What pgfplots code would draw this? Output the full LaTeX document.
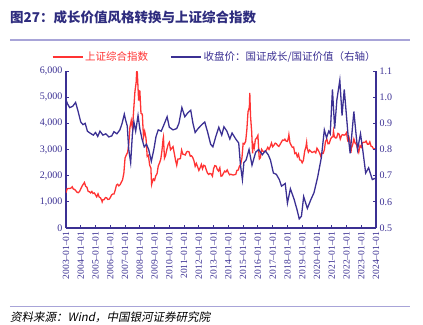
\documentclass[border=0pt]{standalone}
\usepackage{pgfplots}
\pgfplotsset{compat=1.18}
\usepackage{pgfplotstable}
\usepackage{fontspec}
\setmainfont{Liberation Serif}
\newfontfamily\cjk{Noto Sans CJK SC}
\newfontfamily\cjkit[FakeSlant=0.2]{Noto Sans CJK SC}
\definecolor{myred}{HTML}{FF3333}
\definecolor{myblue}{HTML}{3B3093}
\definecolor{titleblue}{HTML}{2E2C7E}
\definecolor{rulec}{HTML}{A8A4D8}

\pgfplotstableread{
x y
2003.00 1350
2003.08 1500
2003.17 1512
2003.25 1510
2003.33 1521
2003.42 1576
2003.50 1487
2003.58 1477
2003.67 1421
2003.75 1367
2003.83 1348
2003.92 1397
2004.00 1497
2004.08 1590
2004.17 1675
2004.25 1741
2004.33 1595
2004.42 1555
2004.50 1400
2004.58 1386
2004.67 1342
2004.75 1396
2004.83 1320
2004.92 1340
2005.00 1266
2005.08 1191
2005.17 1306
2005.25 1181
2005.33 1159
2005.42 1060
2005.45 1000
2005.50 1080
2005.58 1083
2005.67 1162
2005.75 1155
2005.83 1092
2005.92 1099
2006.00 1161
2006.08 1258
2006.17 1299
2006.25 1298
2006.33 1440
2006.42 1641
2006.50 1672
2006.58 1612
2006.67 1658
2006.75 1752
2006.83 1837
2006.92 2099
2007.00 2675
2007.08 2786
2007.17 2881
2007.25 3183
2007.33 3841
2007.42 4109
2007.50 3820
2007.58 4471
2007.67 5218
2007.75 5552
2007.79 6000
2007.83 5954
2007.92 4871
2008.00 5262
2008.08 4383
2008.17 4348
2008.25 3473
2008.33 3693
2008.42 3433
2008.50 2736
2008.58 2775
2008.67 2397
2008.75 2293
2008.80 1665
2008.83 1729
2008.92 1871
2009.00 1821
2009.08 1991
2009.17 2082
2009.25 2373
2009.33 2477
2009.42 2633
2009.50 2959
2009.58 3412
2009.60 3470
2009.67 2667
2009.75 2779
2009.83 2996
2009.92 3195
2010.00 3277
2010.08 2989
2010.17 3052
2010.25 3110
2010.33 2871
2010.42 2592
2010.50 2398
2010.58 2638
2010.67 2639
2010.75 2656
2010.83 2979
2010.92 2820
2011.00 2808
2011.08 2790
2011.17 2905
2011.25 2928
2011.33 2912
2011.42 2743
2011.50 2762
2011.58 2701
2011.67 2568
2011.75 2359
2011.83 2469
2011.92 2333
2012.00 2199
2012.08 2292
2012.17 2429
2012.25 2263
2012.33 2397
2012.42 2373
2012.50 2225
2012.58 2103
2012.67 2047
2012.75 2086
2012.83 2069
2012.92 1980
2013.00 2269
2013.08 2385
2013.17 2366
2013.25 2237
2013.33 2178
2013.42 2301
2013.50 1979
2013.58 1994
2013.67 2098
2013.75 2175
2013.83 2141
2013.92 2220
2014.00 2116
2014.08 2033
2014.17 2056
2014.25 2033
2014.33 2026
2014.42 2039
2014.50 2048
2014.58 2202
2014.67 2217
2014.75 2364
2014.83 2420
2014.92 2683
2015.00 3235
2015.08 3210
2015.17 3310
2015.25 3748
2015.33 4442
2015.42 4612
2015.45 5166
2015.50 4277
2015.58 3664
2015.64 2850
2015.67 3206
2015.75 3053
2015.83 3383
2015.92 3445
2016.00 3539
2016.08 2738
2016.10 2640
2016.17 2688
2016.25 3004
2016.33 2938
2016.42 2917
2016.50 2930
2016.58 2979
2016.67 3085
2016.75 3005
2016.83 3100
2016.92 3250
2017.00 3104
2017.08 3159
2017.17 3242
2017.25 3223
2017.33 3155
2017.42 3117
2017.50 3192
2017.58 3273
2017.67 3361
2017.75 3349
2017.83 3393
2017.92 3317
2018.00 3307
2018.08 3481
2018.10 3560
2018.17 3259
2018.25 3169
2018.33 3082
2018.42 3095
2018.50 2847
2018.58 2876
2018.67 2725
2018.75 2821
2018.83 2603
2018.92 2588
2019.00 2494
2019.08 2585
2019.17 2941
2019.25 3091
2019.30 3270
2019.33 3078
2019.42 2899
2019.50 2979
2019.58 2932
2019.67 2886
2019.75 2905
2019.83 2929
2019.92 2872
2020.00 3050
2020.08 2977
2020.17 2880
2020.25 2750
2020.33 2860
2020.42 2852
2020.50 2985
2020.58 3310
2020.67 3396
2020.75 3218
2020.83 3225
2020.92 3392
2021.00 3473
2021.08 3483
2021.12 3700
2021.17 3509
2021.25 3441
2021.33 3447
2021.42 3615
2021.50 3591
2021.58 3397
2021.67 3544
2021.75 3568
2021.83 3547
2021.92 3564
2022.00 3640
2022.08 3361
2022.17 3462
2022.25 3252
2022.30 2870
2022.33 3047
2022.42 3186
2022.50 3399
2022.58 3253
2022.67 3202
2022.75 3024
2022.83 2893
2022.92 3151
2023.00 3089
2023.08 3255
2023.17 3280
2023.25 3273
2023.33 3323
2023.42 3205
2023.50 3202
2023.58 3291
2023.67 3120
2023.75 3110
2023.83 3018
2023.92 3030
2023.98 2975
}\redtable

\pgfplotstableread{
x y
2003.00 0.990
2003.10 0.975
2003.25 0.960
2003.45 0.965
2003.65 0.980
2003.80 0.950
2004.00 0.905
2004.15 0.895
2004.30 0.900
2004.45 0.870
2004.65 0.862
2004.85 0.855
2005.00 0.865
2005.15 0.850
2005.30 0.870
2005.50 0.855
2005.70 0.860
2005.90 0.848
2006.10 0.852
2006.25 0.868
2006.45 0.860
2006.65 0.875
2006.80 0.900
2006.95 0.935
2007.05 0.910
2007.15 0.890
2007.25 0.800
2007.38 0.750
2007.50 0.860
2007.60 0.905
2007.72 0.870
2007.88 0.930
2008.00 0.880
2008.15 0.840
2008.30 0.810
2008.45 0.820
2008.60 0.800
2008.78 0.755
2008.95 0.800
2009.10 0.850
2009.25 0.875
2009.45 0.870
2009.60 0.890
2009.85 0.925
2010.00 0.885
2010.25 0.875
2010.50 0.880
2010.65 0.900
2010.85 0.960
2011.05 0.925
2011.25 0.940
2011.45 0.950
2011.60 0.900
2011.75 0.865
2011.95 0.880
2012.20 0.895
2012.40 0.905
2012.60 0.865
2012.80 0.820
2012.95 0.810
2013.15 0.850
2013.35 0.885
2013.55 0.855
2013.70 0.887
2013.90 0.870
2014.10 0.840
2014.25 0.863
2014.50 0.840
2014.70 0.825
2014.82 0.740
2014.95 0.685
2015.05 0.750
2015.20 0.760
2015.40 0.800
2015.60 0.740
2015.85 0.790
2016.05 0.800
2016.30 0.780
2016.50 0.795
2016.70 0.780
2016.85 0.760
2017.05 0.710
2017.25 0.705
2017.45 0.685
2017.60 0.660
2017.85 0.670
2018.00 0.595
2018.20 0.650
2018.45 0.610
2018.65 0.570
2018.80 0.535
2018.95 0.545
2019.10 0.620
2019.35 0.575
2019.60 0.610
2019.80 0.635
2020.05 0.695
2020.30 0.770
2020.50 0.875
2020.65 0.845
2020.80 0.870
2020.90 0.860
2021.05 1.030
2021.20 0.880
2021.35 0.990
2021.55 1.065
2021.70 0.930
2021.85 1.030
2022.10 0.860
2022.25 0.785
2022.50 0.945
2022.75 0.800
2022.95 0.860
2023.10 0.800
2023.30 0.710
2023.50 0.730
2023.75 0.685
2023.95 0.690
}\bluetable

\begin{document}
\begin{tikzpicture}[x=1pt,y=1pt]
\useasboundingbox (-66,-96) rectangle (357,228);
\node[anchor=west, text=titleblue, font=\cjk\bfseries\fontsize{13.5}{14}\selectfont, inner sep=0pt] at (-56,211) {图27：成长价值风格转换与上证综合指数};
\draw[rulec, line width=1.2pt] (-56,188) -- (344,188);
\draw[rulec, line width=0.8pt] (-56,-78) -- (344,-78);
\node[anchor=west, text=black, font=\cjkit\fontsize{11.5}{12}\selectfont, inner sep=0pt] at (-56,-89) {资料来源：Wind，中国银河证券研究院};

\begin{axis}[
  at={(0pt,0pt)}, anchor=south west,
  scale only axis, width=310pt, height=157pt,
  xmin=2003, xmax=2024, ymin=0, ymax=6000,
  axis x line*=bottom, axis y line*=left,
  axis line style={myblue, line width=1.2pt, -},
  tick style={myblue, line width=0.8pt}, tick align=inside, major tick length=3pt,
  xtick={2003,2004,...,2024},
  xticklabels={2003--01--01,2004--01--01,2005--01--01,2006--01--01,2007--01--01,2008--01--01,2009--01--01,2010--01--01,2011--01--01,2012--01--01,2013--01--01,2014--01--01,2015--01--01,2016--01--01,2017--01--01,2018--01--01,2019--01--01,2020--01--01,2021--01--01,2022--01--01,2023--01--01,2024--01--01},
  x tick label style={rotate=90, anchor=east, font=\fontsize{9.5}{10}\selectfont, text=myblue},
  ytick={0,1000,2000,3000,4000,5000,6000},
  y tick label style={font=\fontsize{10}{10}\selectfont, text=myblue},
  /pgf/number format/assume math mode=true,
  /pgf/number format/1000 sep={,},
  legend columns=2,
  legend style={at={(0.48,1.09)}, anchor=center, draw=none, fill=none,
    font=\cjk\fontsize{10.5}{11}\selectfont,
    /tikz/every even column/.append style={column sep=20pt}},
  legend image code/.code={\draw[#1] (0pt,0pt) -- (30pt,0pt);},
]
\addplot[myred, line width=1.3pt, no markers] table[x=x,y=y] {\redtable};
\addlegendentry{\textcolor{myred}{上证综合指数}}
\addlegendimage{myblue, line width=1.3pt}
\addlegendentry{\textcolor{myblue}{收盘价：国证成长/国证价值（右轴）}}
\end{axis}

\begin{axis}[
  at={(0pt,0pt)}, anchor=south west,
  scale only axis, width=310pt, height=157pt,
  xmin=2003, xmax=2024, ymin=0.5, ymax=1.1,
  axis x line=none, axis y line*=right,
  axis line style={myblue, line width=1.2pt, -},
  tick style={myblue, line width=0.8pt}, tick align=inside, major tick length=3pt,
  ytick={0.5,0.6,0.7,0.8,0.9,1.0,1.1},
  yticklabel style={font=\fontsize{10}{10}\selectfont, text=myblue,
    /pgf/number format/.cd, fixed, fixed zerofill, precision=1},
  /pgf/number format/assume math mode=true,
]
\addplot[myblue, line width=1.3pt, no markers] table[x=x,y=y] {\bluetable};
\end{axis}
\end{tikzpicture}
\end{document}
